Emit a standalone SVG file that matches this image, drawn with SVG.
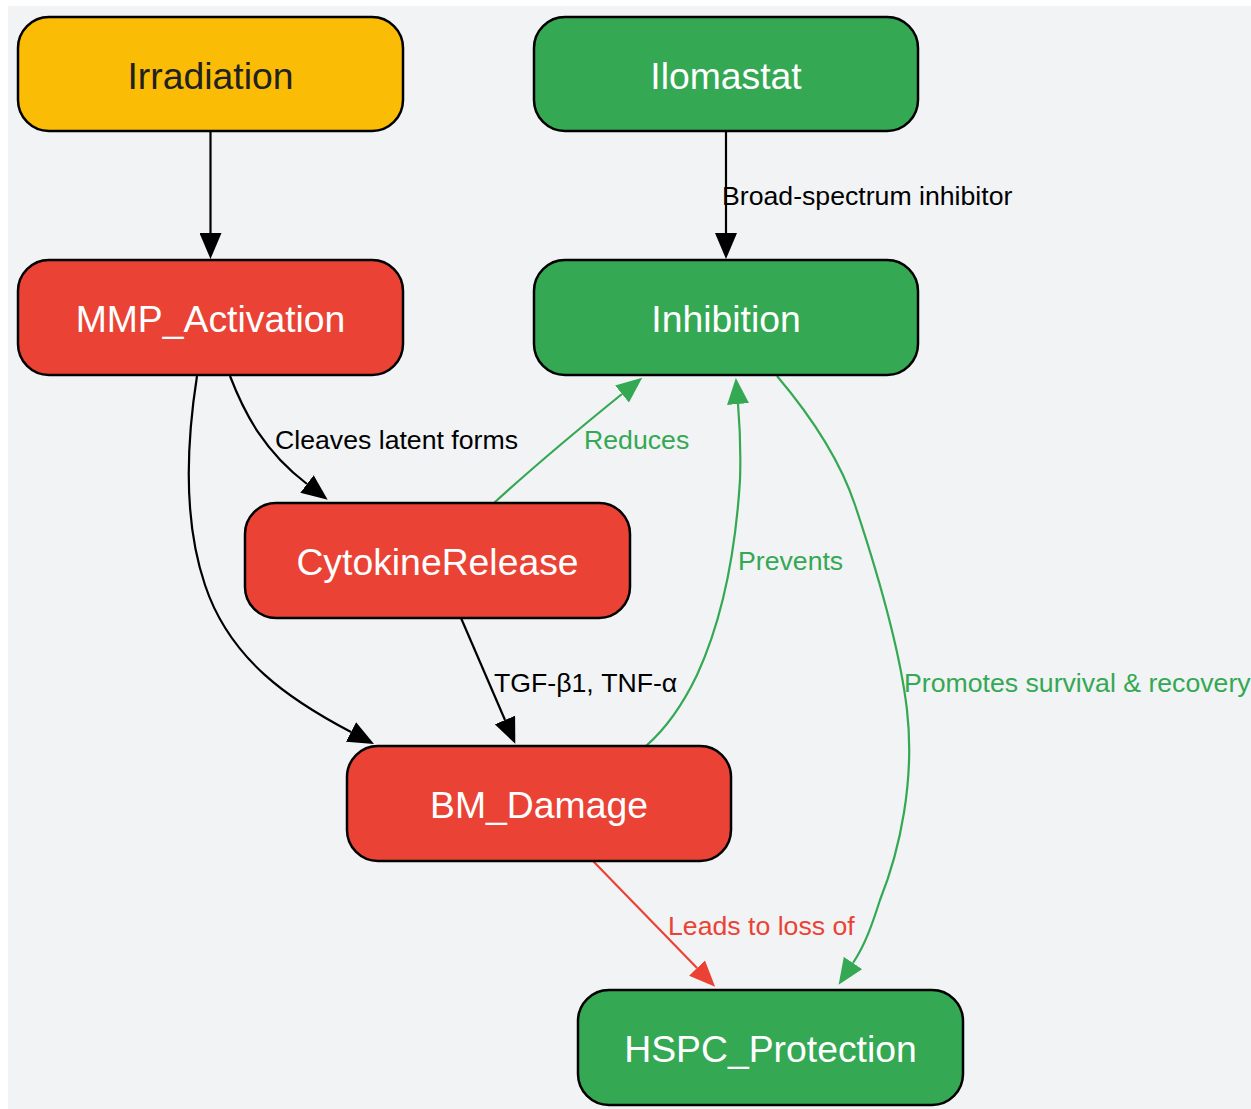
<svg xmlns="http://www.w3.org/2000/svg" width="1251" height="1109" viewBox="0 0 1251 1109">
<style>
.node rect{stroke:#000;stroke-width:2.5}
.y rect{fill:#FBBC05}
.r rect{fill:#EA4335}
.g rect{fill:#34A853}
.node text{font-family:"Liberation Sans",Arial,sans-serif;font-size:37.33px;text-anchor:middle;fill:#fff}
.y text{fill:#202124}
.e{fill:none;stroke-width:2.2}
.k{stroke:#000}
.eg{stroke:#34A853}
.er{stroke:#EA4335}
.lbl{font-family:"Liberation Sans",Arial,sans-serif;font-size:26.67px}
</style>
<defs>
<marker id="ak" markerUnits="userSpaceOnUse" markerWidth="26" markerHeight="22" viewBox="0 0 26 22" refX="0" refY="11" orient="auto"><path d="M0,0 L26,11 L0,22 z" fill="#000"/></marker>
<marker id="ag" markerUnits="userSpaceOnUse" markerWidth="26" markerHeight="22" viewBox="0 0 26 22" refX="0" refY="11" orient="auto"><path d="M0,0 L26,11 L0,22 z" fill="#34A853"/></marker>
<marker id="ar" markerUnits="userSpaceOnUse" markerWidth="26" markerHeight="22" viewBox="0 0 26 22" refX="0" refY="11" orient="auto"><path d="M0,0 L26,11 L0,22 z" fill="#EA4335"/></marker>
</defs>
<rect x="8" y="6" width="1243" height="1103" fill="#f1f3f4"/>
<g id="connectors">
<path class="e k" d="M210.5,131 L210.5,233" marker-end="url(#ak)"/>
<path class="e k" d="M726,131 L726,233" marker-end="url(#ak)"/>
<path class="e k" d="M230,376 C245,415 265,452 307,484" marker-end="url(#ak)"/>
<path class="e k" d="M197,376 C187,440 183,520 205,585 C230,660 290,700 351,732" marker-end="url(#ak)"/>
<path class="e eg" d="M494,503 C530,470 580,428 622,394" marker-end="url(#ag)"/>
<path class="e k" d="M461,618 L505,720" marker-end="url(#ak)"/>
<path class="e eg" d="M646,746 C670,725 685,700 697,675 C720,625 735,560 740,480 C741,450 740,428 738,404" marker-end="url(#ag)"/>
<path class="e eg" d="M777,376 C810,415 840,460 855,505 C880,580 900,650 907,710 C915,780 900,850 880,900 C872,925 865,945 853,963" marker-end="url(#ag)"/>
<path class="e er" d="M593,861 L697,968" marker-end="url(#ar)"/>
<text class="lbl" x="722" y="205" fill="#000">Broad-spectrum inhibitor</text>
<text class="lbl" x="275" y="449" fill="#000">Cleaves latent forms</text>
<text class="lbl" x="584" y="449" fill="#34A853">Reduces</text>
<text class="lbl" x="494" y="692" fill="#000">TGF-β1, TNF-α</text>
<text class="lbl" x="738" y="570" fill="#34A853">Prevents</text>
<text class="lbl" x="904" y="692" fill="#34A853">Promotes survival &amp; recovery</text>
<text class="lbl" x="668" y="935" fill="#EA4335">Leads to loss of</text>
</g>
<g id="Irradiation" class="node y"><rect x="18" y="17" width="385" height="114" rx="31"/><text x="210.5" y="89">Irradiation</text></g>
<g id="Ilomastat" class="node g"><rect x="534" y="17" width="384" height="114" rx="31"/><text x="726" y="89">Ilomastat</text></g>
<g id="MMP_Activation" class="node r"><rect x="18" y="260" width="385" height="115" rx="31"/><text x="210.5" y="332">MMP_Activation</text></g>
<g id="Inhibition" class="node g"><rect x="534" y="260" width="384" height="115" rx="31"/><text x="726" y="332">Inhibition</text></g>
<g id="CytokineRelease" class="node r"><rect x="245" y="503" width="385" height="115" rx="31"/><text x="437.5" y="575">CytokineRelease</text></g>
<g id="BM_Damage" class="node r"><rect x="347" y="746" width="384" height="115" rx="31"/><text x="539" y="818">BM_Damage</text></g>
<g id="HSPC_Protection" class="node g"><rect x="578" y="990" width="385" height="115" rx="31"/><text x="770.5" y="1062">HSPC_Protection</text></g>
</svg>
